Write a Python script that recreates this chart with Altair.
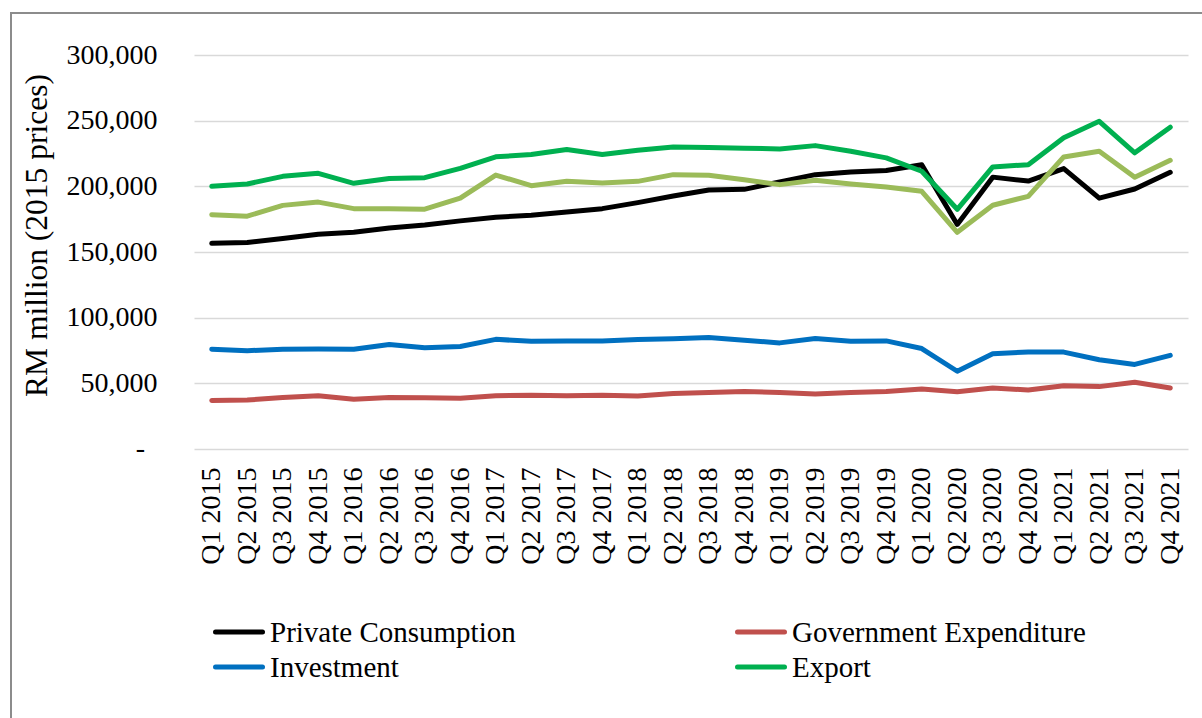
import altair as alt
import pandas as pd

quarters = ["Q1 2015", "Q2 2015", "Q3 2015", "Q4 2015",
            "Q1 2016", "Q2 2016", "Q3 2016", "Q4 2016",
            "Q1 2017", "Q2 2017", "Q3 2017", "Q4 2017",
            "Q1 2018", "Q2 2018", "Q3 2018", "Q4 2018",
            "Q1 2019", "Q2 2019", "Q3 2019", "Q4 2019",
            "Q1 2020", "Q2 2020", "Q3 2020", "Q4 2020",
            "Q1 2021", "Q2 2021", "Q3 2021", "Q4 2021"]

private_consumption = [156600, 157200, 160200, 163500, 165000, 168300, 170600, 173700,
                       176500, 178000, 180500, 183000, 187600, 192700, 197200, 197700,
                       203400, 208900, 211000, 212000, 216500, 171000, 207000, 204000,
                       213500, 191000, 198000, 210700]
government_expenditure = [37000, 37300, 39200, 40500, 37800, 39200, 39000, 38700,
                          40500, 41000, 40500, 41000, 40300, 42300, 43100, 43800,
                          43100, 41800, 43100, 43800, 45700, 43600, 46400, 44900,
                          48200, 47500, 50800, 46400]
investment = [76000, 74900, 75900, 76200, 76000, 79600, 77100, 78100,
              83500, 82000, 82300, 82300, 83300, 84000, 84900, 82800,
              80800, 84100, 82100, 82300, 76500, 59200, 72600, 73800,
              73800, 68000, 64400, 71300]
export = [200000, 201800, 207600, 209900, 202300, 206000, 206600, 213700,
          222500, 224200, 228000, 224200, 227500, 230000, 229500, 229000,
          228500, 231000, 226700, 221700, 211500, 182500, 214800, 216500,
          237000, 249500, 225500, 245000]
imports = [178400, 177300, 185500, 188000, 183000, 183000, 182600, 191000,
           208600, 200500, 203800, 202600, 203800, 208900, 208400, 205000,
           201300, 204600, 201800, 199500, 196200, 165000, 185600, 192400,
           222400, 226700, 206900, 219800]

series_names = ["Private Consumption", "Government Expenditure", "Investment", "Export", "Import"]
series_colors = ["#000000", "#C0504D", "#0070C0", "#00B050", "#9BBB59"]
legend_names = ["Private Consumption", "Government Expenditure", "Investment", "Export"]
y_ticks = [0, 50000, 100000, 150000, 200000, 250000, 300000]

rows = []
for name, vals in zip(series_names, [private_consumption, government_expenditure,
                                     investment, export, imports]):
    for q, v in zip(quarters, vals):
        rows.append({"Quarter": q, "Value": v, "Series": name,
                     "order": series_names.index(name)})
df = pd.DataFrame(rows)

FONT = "Liberation Serif"

y_axis = alt.Axis(values=y_ticks, title="RM million (2015 prices)",
                  labelExpr="datum.value == 0 ? '' : format(datum.value, ',')",
                  labelFont=FONT, labelFontSize=28, labelColor="#000000",
                  labelPadding=37, ticks=False, domain=False,
                  grid=True, gridColor="#d9d9d9", gridWidth=1.5,
                  titleFont=FONT, titleFontSize=31.5, titleFontWeight="normal",
                  titleColor="#000000", titleX=-148, titleY=180,
                  titleAlign="center", titleBaseline="alphabetic", titleAngle=270)
y_scale = alt.Scale(domain=[0, 300000], nice=False)

lines = alt.Chart(df).mark_line(strokeWidth=5, strokeJoin="round", strokeCap="round").encode(
    x=alt.X("Quarter:O", sort=quarters,
            scale=alt.Scale(type="point", padding=0.5),
            axis=alt.Axis(title=None, labelAngle=-90, labelAlign="right", labelBaseline="middle",
                          labelFont=FONT, labelFontSize=28, labelColor="#000000",
                          labelPadding=18, ticks=False, domain=False, grid=False)),
    y=alt.Y("Value:Q", scale=y_scale, axis=y_axis),
    color=alt.Color("Series:N",
                    scale=alt.Scale(domain=series_names, range=series_colors),
                    legend=None),
    order=alt.Order("order:Q"),
    detail="Series:N",
)

# Excel-style "-" label for the zero tick
zero_label = alt.Chart(pd.DataFrame({"Value": [0]})).mark_text(
    align="right", baseline="middle", font=FONT, fontSize=28, color="#000000"
).encode(
    y=alt.Y("Value:Q", scale=y_scale, axis=y_axis),
    x=alt.value(-49),
    text=alt.value("-"),
)

# Legend (two columns, two rows) - layout constants relative to plot origin
col_x = [19, 541]
row_y = [577, 612]
legend_layers = []
for i, name in enumerate(legend_names):
    cx = col_x[i % 2]
    cy = row_y[i // 2]
    color = series_colors[series_names.index(name)]
    src = alt.Chart(pd.DataFrame({"name": [name]}))
    legend_layers.append(
        src.mark_rule(strokeWidth=5, strokeCap="round", color=color).encode(
            x=alt.value(cx + 2.5), x2=alt.value(cx + 49.5), y=alt.value(cy)))
    legend_layers.append(
        src.mark_text(align="left", baseline="middle", font=FONT, fontSize=29,
                      color="#000000").encode(
            x=alt.value(cx + 57), y=alt.value(cy + 1), text="name:N"))

frame = alt.Chart(pd.DataFrame({"k": [0]})).mark_rect(
    fill=None, stroke="#8c8c8c", strokeWidth=2
).encode(
    x=alt.value(-183), x2=alt.value(1100),
    y=alt.value(-42), y2=alt.value(700),
)

chart = alt.layer(frame, lines, zero_label, *legend_layers).properties(
    width=994, height=394,
    background="#ffffff",
    padding={"left": 194, "top": 55, "right": 14, "bottom": 269},
    autosize=alt.AutoSizeParams(type="none"),
).configure_view(strokeWidth=0)

chart.save("out.html", embed_options={"renderer": "svg", "actions": False})
